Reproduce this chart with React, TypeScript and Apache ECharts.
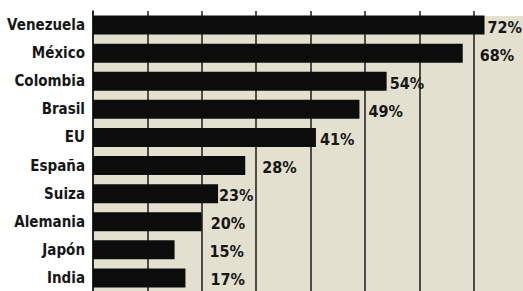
import React, { useEffect, useRef } from "react";
import * as echarts from "echarts";

const countries = ["Venezuela", "México", "Colombia", "Brasil", "EU", "España", "Suiza", "Alemania", "Japón", "India"];
const percentages = [72, 68, 54, 49, 41, 28, 23, 20, 15, 17];
// gap (px) between each bar end and its value label, as in the original layout
const labelGaps = [3, 17, 3, 9, 4, 17, 1, 9, 35, 25];

const FONT = "'Liberation Sans Narrow', 'Arial Narrow', 'DejaVu Sans Condensed', sans-serif";

export default function App() {
  const ref = useRef<HTMLDivElement>(null);
  useEffect(() => {
    if (!ref.current) return;
    const chart = echarts.init(ref.current, null, { renderer: "svg" });
    chart.setOption({
      animation: false,
      backgroundColor: "#ffffff",
      graphic: [
        {
          type: "rect",
          z: -1,
          shape: { x: 93, y: 16, width: 440, height: 280 },
          style: { fill: "#e4e0cf" },
        },
      ],
      grid: {
        left: 93,
        top: 11,
        width: 435,
        height: 281,
        containLabel: false,
        outerBoundsMode: "none",
      },
      xAxis: {
        type: "value",
        min: 0,
        max: 80,
        interval: 10,
        axisLabel: { show: false },
        axisTick: { show: false },
        axisLine: { show: false },
        splitLine: { show: true, lineStyle: { color: "#1a1a1a", width: 1.5 } },
      },
      yAxis: {
        type: "category",
        data: countries,
        inverse: true,
        axisTick: { show: false },
        axisLine: { show: true, lineStyle: { color: "#1a1a1a", width: 1.5 } },
        axisLabel: {
          margin: 8,
          color: "#161616",
          fontFamily: FONT,
          fontWeight: "bold",
          fontSize: 15,
        },
      },
      series: [
        {
          type: "bar",
          barWidth: 19,
          itemStyle: { color: "#0c0c0c" },
          data: percentages.map((v, i) => ({
            value: v,
            label: { distance: labelGaps[i] },
          })),
          label: {
            show: true,
            position: "right",
            offset: [0, 2],
            formatter: "{c}%",
            color: "#161616",
            fontFamily: FONT,
            fontWeight: "bold",
            fontSize: 16,
          },
        },
      ],
    });
    return () => chart.dispose();
  }, []);
  return (
    <div
      ref={ref}
      style={{ position: "fixed", left: 0, top: 0, width: 523, height: 291 }}
    />
  );
}
